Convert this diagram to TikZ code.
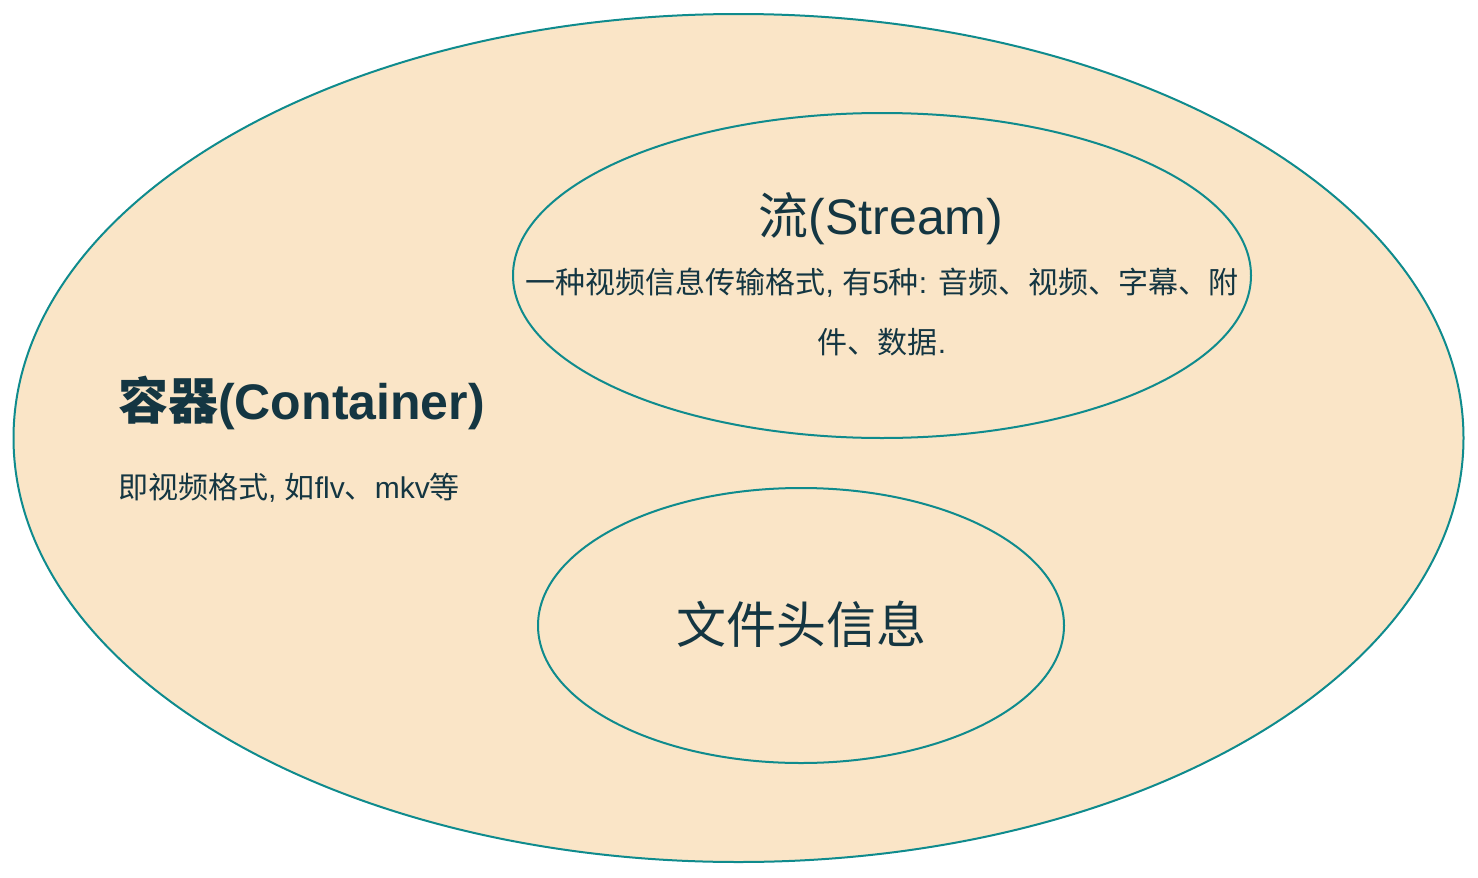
\documentclass[tikz,border=0pt]{standalone}
\usepackage{fontspec}
\setmainfont{Noto Sans CJK SC}
\newfontfamily\lat{Liberation Sans}
\usetikzlibrary{shapes.geometric}
\definecolor{fillc}{HTML}{FAE5C7}
\definecolor{strokec}{HTML}{0F8B8D}
\definecolor{textc}{HTML}{143642}
\tikzset{
  blob/.style={draw=strokec, fill=fillc, line width=2pt},
  lbl/.style={text=textc, inner sep=0pt, anchor=base},
}
\begin{document}
\begin{tikzpicture}[x=1pt,y=-1pt]
\useasboundingbox (0,0) rectangle (1478,878);
\draw[blob] (738.5,438) ellipse [x radius=725, y radius=424];
\draw[blob] (882,275.5) ellipse [x radius=369, y radius=162.5];
\draw[blob] (801,625.5) ellipse [x radius=263, y radius=137.5];
\node[lbl, anchor=base west] (ctitle) at (118,419) {\fontsize{50}{58}\selectfont\bfseries 容器{\lat (Container)}};
\node[lbl, anchor=base west] (csub) at (118,498) {\fontsize{30}{35}\selectfont 即视频格式{\lat , }如{\lat flv}、{\lat mkv}等};
\node[lbl] (stitle) at (881,234) {\fontsize{50}{58}\selectfont 流{\lat (Stream)}};
\node[lbl] (sdesc1) at (882,293) {\fontsize{30}{35}\selectfont 一种视频信息传输格式{\lat , }有{\lat 5}种{\lat : }音频、视频、字幕、附};
\node[lbl] (sdesc2) at (882,353) {\fontsize{30}{35}\selectfont 件、数据{\lat .}};
\node[lbl] (ftitle) at (801,643) {\fontsize{50}{58}\selectfont 文件头信息};
\end{tikzpicture}
\end{document}
